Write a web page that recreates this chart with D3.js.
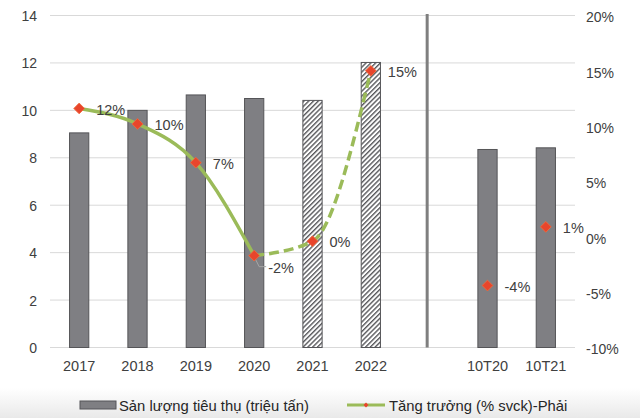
<!DOCTYPE html>
<html><head><meta charset="utf-8">
<script src="https://cdn.jsdelivr.net/npm/d3@7"></script>
<style>
html,body{margin:0;padding:0;background:#fff;}
svg{display:block;}
text{font-family:"Liberation Sans",Arial,sans-serif;}
</style></head>
<body>
<svg id="c" width="640" height="418"></svg>
<script>
const categories = ["2017","2018","2019","2020","2021","2022","","10T20","10T21"];
const volume = [9.05, 10.0, 10.65, 10.5, 10.42, 12.02, null, 8.35, 8.42];
const hatched = [false,false,false,false,true,true,false,false,false];
const growth = [11.6, 10.2, 6.7, -1.7, -0.4, 15.0, null, -4.4, 0.9];
const growthLabels = ["12%","10%","7%","-2%","0%","15%","","-4%","1%"];
const actualIdx = [0,1,2,3];     // solid line segment
const forecastIdx = [3,4,5];     // dashed line segment
const leftTicks = [0,2,4,6,8,10,12,14];
const rightTicks = [-10,-5,0,5,10,15,20];
const legendLabels = ["Sản lượng tiêu thụ (triệu tấn)","Tăng trưởng (% svck)-Phải"];

const svg = d3.select("#c");
const W = 640, H = 418;
const pLeft = 50, pRight = 575, pTop = 15.5, pBottom = 347.5;

const defs = svg.append("defs");
const grad = defs.append("linearGradient").attr("id","bg").attr("x1",0).attr("y1",0).attr("x2",0).attr("y2",1);
grad.append("stop").attr("offset","0%").attr("stop-color","#ffffff");
grad.append("stop").attr("offset","100%").attr("stop-color","#e9e9e9");
svg.append("rect").attr("x",0).attr("y",388).attr("width",W).attr("height",30).attr("fill","url(#bg)");

const pat = defs.append("pattern").attr("id","hatch").attr("patternUnits","userSpaceOnUse")
  .attr("width",3.4).attr("height",3.4).attr("patternTransform","rotate(45)");
pat.append("rect").attr("width",3.4).attr("height",3.4).attr("fill","#fff");
pat.append("line").attr("x1",0.7).attr("y1",0).attr("x2",0.7).attr("y2",3.4).attr("stroke","#58585c").attr("stroke-width",1.4);

const x = d3.scaleBand().domain(categories.map((c,i)=>i)).range([pLeft,pRight]).paddingInner(0.67).paddingOuter(0.335);
const xc = i => x(i) + x.bandwidth()/2;
const yL = d3.scaleLinear().domain([0,14]).range([pBottom,pTop]);
const yR = d3.scaleLinear().domain([-10,20]).range([pBottom,pTop]);

// gridlines
svg.append("g").selectAll("line").data(leftTicks).join("line")
  .attr("x1",pLeft).attr("x2",pRight).attr("y1",d=>yL(d)).attr("y2",d=>yL(d))
  .attr("stroke","#d9d9d9").attr("stroke-width",1);

// left axis
const axL = d3.axisLeft(yL).tickValues(leftTicks).tickSize(0).tickPadding(0);
const gL = svg.append("g").attr("transform",`translate(${pLeft-12},0)`).call(axL);
gL.select(".domain").remove();
gL.selectAll("text").attr("font-size",14).attr("fill","#404040").attr("font-family","Liberation Sans, Arial, sans-serif").attr("dx","-1").attr("dy","0.36em");

// right axis
const axR = d3.axisRight(yR).tickValues(rightTicks).tickSize(0).tickPadding(0).tickFormat(d=>d+"%");
const gR = svg.append("g").attr("transform",`translate(${pRight+11},0)`).call(axR);
gR.select(".domain").remove();
gR.selectAll("text").attr("font-size",14).attr("fill","#404040").attr("font-family","Liberation Sans, Arial, sans-serif").attr("dy","0.45em");

// bars
svg.append("g").selectAll("rect").data(volume.map((v,i)=>({v,i})).filter(d=>d.v!=null)).join("rect")
  .attr("x",d=>x(d.i)).attr("width",x.bandwidth())
  .attr("y",d=>yL(d.v)).attr("height",d=>yL(0)-yL(d.v))
  .attr("fill",d=>hatched[d.i]?"url(#hatch)":"#7f7f83")
  .attr("stroke","#555558").attr("stroke-width",1);

// separator at empty category
const sepIdx = categories.indexOf("");
svg.append("line").attr("x1",xc(sepIdx)-2).attr("x2",xc(sepIdx)-2).attr("y1",yL(14)-1.5).attr("y2",yL(0))
  .attr("stroke","#7f7f7f").attr("stroke-width",3);

// x labels
svg.append("g").selectAll("text").data(categories.map((c,i)=>({c,i}))).join("text")
  .attr("x",d=>xc(d.i)).attr("y",371).attr("text-anchor","middle")
  .attr("font-size",14.5).attr("fill","#404040").text(d=>d.c);

// growth lines
const lineGen = d3.line().curve(d3.curveMonotoneX);
const ptsA = actualIdx.map(i=>[xc(i), yR(growth[i])]);
const ptsF = forecastIdx.map(i=>[xc(i), yR(growth[i])]);
svg.append("path").attr("d",lineGen(ptsA)).attr("fill","none").attr("stroke","#9bbb59").attr("stroke-width",3.5)
  .attr("stroke-linecap","round");
svg.append("path").attr("d",lineGen(ptsF)).attr("fill","none").attr("stroke","#9bbb59").attr("stroke-width",3.5)
  .attr("stroke-dasharray","10,5");

// leader line for -2%
const gi = 3;
svg.append("path").attr("d",`M${xc(gi)+1},${yR(growth[gi])+3} L${xc(gi)+5},${yR(growth[gi])+11} L${xc(gi)+12},${yR(growth[gi])+11}`)
  .attr("fill","none").attr("stroke","#a6a6a6").attr("stroke-width",1);

// markers
const sym = d3.symbol().type(d3.symbolSquare).size(58);
const mdata = growth.map((g,i)=>({g,i})).filter(d=>d.g!=null);
svg.append("g").selectAll("path").data(mdata).join("path")
  .attr("d",sym).attr("transform",d=>`translate(${xc(d.i)},${yR(d.g)}) rotate(45)`)
  .attr("fill","#e8452c").attr("stroke","#f06a3c").attr("stroke-width",0.8);

// data labels
svg.append("g").selectAll("text").data(mdata).join("text")
  .attr("x",d=>xc(d.i)+(d.i===3?14:17))
  .attr("y",d=>yR(d.g)+(d.i===3?12:1))
  .attr("dy","0.35em")
  .attr("font-family","Lato, 'Open Sans', sans-serif").attr("font-size",14.5).attr("fill","#404040")
  .text(d=>growthLabels[d.i]);

// legend
const lg = svg.append("g");
lg.append("rect").attr("x",80).attr("y",401).attr("width",36).attr("height",8).attr("fill","#7f7f83").attr("stroke","#555558");
lg.append("text").attr("x",119).attr("y",410.5).attr("font-size",14.8).attr("fill","#262626").text(legendLabels[0]);
lg.append("line").attr("x1",347).attr("x2",385).attr("y1",405).attr("y2",405).attr("stroke","#9bbb59").attr("stroke-width",3);
lg.append("path").attr("d",d3.symbol().type(d3.symbolSquare).size(12)).attr("transform","translate(366,405) rotate(45)").attr("fill","#e8452c");
lg.append("text").attr("x",389).attr("y",410.5).attr("font-size",14.8).attr("fill","#262626").text(legendLabels[1]);
</script>
</body></html>
